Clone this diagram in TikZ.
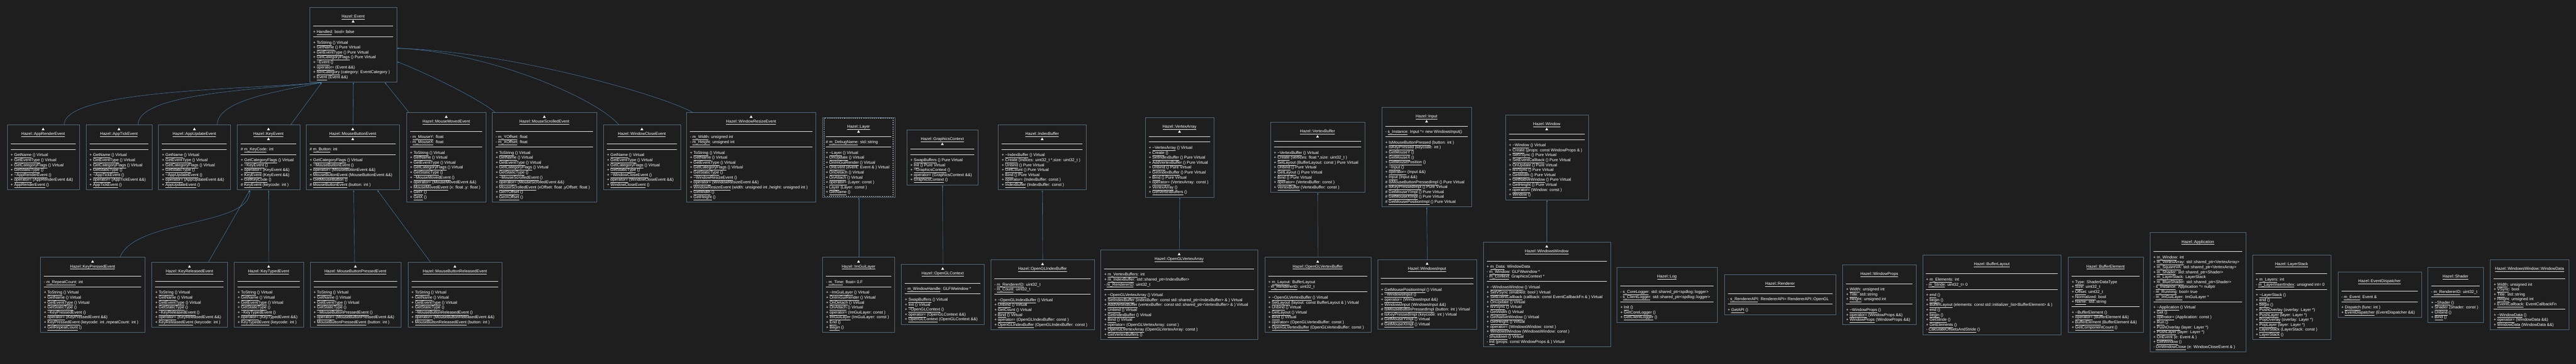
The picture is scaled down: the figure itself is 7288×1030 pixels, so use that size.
\documentclass[tikz,border=0pt]{standalone}
\usepackage{fontspec}
\setmainfont{Liberation Sans}
\usetikzlibrary{arrows.meta}
\definecolor{bgc}{RGB}{30,30,30}
\definecolor{boxc}{RGB}{88,116,140}
\definecolor{linec}{RGB}{70,128,178}
\newcommand{\un}[1]{\underline{#1\vphantom{y}}}
\newcommand{\tld}{\textasciitilde}
% #1 triangle offsets, #2 name, #3 left, #4 top, #5 width, #6 title, #7 fields, #8 operations
\newcommand{\umlclass}[8][]{%
  \node[ttl] (#2-t) at (#3+#5/2, #4+30) {\un{#6}};
  \if\relax\detokenize{#1}\relax\else
    \foreach \toff in {#1} {\fill[white] (#3+#5/2-4, #4+\toff+3.5) -- (#3+#5/2+4, #4+\toff+3.5) -- (#3+#5/2, #4+\toff-3.5) -- cycle;}
  \fi
  \draw[divl] (#3+10, #4+54) -- (#3+#5-10, #4+54);
  \gdef\nfld{0}
  \if\relax\detokenize{#7}\relax\else
    \foreach \s [count=\k] in {#7} {\node[txt] (#2-f\k) at (#3+10, #4+60+14*\k) {\s}; \xdef\nfld{\k}}
  \fi
  \pgfmathsetmacro\dtwo{#4+70+14*\nfld}
  \draw[divl] (#3+10, \dtwo) -- (#3+#5-10, \dtwo);
  \foreach \s [count=\k] in {#8} {\node[txt] (#2-m\k) at (#3+10, \dtwo+6+14*\k) {\s}; \xdef\nops{\k}}
  \pgfmathsetmacro\hgt{\dtwo+16+14*\nops-#4}
  \node[clsbox, minimum width=#5pt, minimum height=\hgt pt, anchor=north west] (#2) at (#3,#4) {};
}

\begin{document}
\begin{tikzpicture}[x=1pt,y=-1pt,
  txt/.style={anchor=base west, inner sep=0pt, text=white, font=\fontsize{11.5}{14}\selectfont},
  ttl/.style={anchor=base, inner sep=0pt, text=white, font=\fontsize{11.5}{14}\selectfont},
  divl/.style={draw=white, line width=0.9pt},
  clsbox/.style={draw=boxc, line width=1.3pt, inner sep=0pt},
  inh/.style={draw=linec, line width=0.9pt, -{Latex[length=5pt,width=4pt]}}]
  \fill[bgc] (0,0) rectangle (7288,1030);

  % top row
  \umlclass[40]{event}{876}{20}{246}{Hazel::Event}
    {+ \un{Handled}: bool= false}
    {+ \un{ToString} () Virtual, + \un{GetName} () Pure Virtual, + \un{GetEventType} () Pure Virtual, + \un{GetCategoryFlags} () Pure Virtual, + \un{\tld Event} (), + \un{operator=} (Event \&\&), + \un{IsInCategory} (category: EventCategory ), + \un{Event} (Event \&\&)}
  \umlclass[12]{apprender}{20}{353}{204}{Hazel::AppRenderEvent}{}
    {+ \un{GetName} () Virtual, + \un{GetEventType} () Virtual, + \un{GetCategoryFlags} () Virtual, + \un{GetStaticType} (), + \un{\tld AppRenderEvent} (), + \un{operator=} (AppRenderEvent \&\&), + \un{AppRenderEvent} ()}
  \umlclass[12]{apptick}{243}{353}{187}{Hazel::AppTickEvent}{}
    {+ \un{GetName} () Virtual, + \un{GetEventType} () Virtual, + \un{GetCategoryFlags} () Virtual, + \un{GetStaticType} (), + \un{\tld AppTickEvent} (), + \un{operator=} (AppTickEvent \&\&), + \un{AppTickEvent} ()}
  \umlclass[12]{appupdate}{448}{353}{204}{Hazel::AppUpdateEvent}{}
    {+ \un{GetName} () Virtual, + \un{GetEventType} () Virtual, + \un{GetCategoryFlags} () Virtual, + \un{GetStaticType} (), + \un{\tld AppUpdateEvent} (), + \un{operator=} (AppUpdateEvent \&\&), + \un{AppUpdateEvent} ()}
  \umlclass[12,40]{keyevent}{671}{353}{177}{Hazel::KeyEvent}
    {\# \un{m\_KeyCode}: int}
    {+ \un{GetCategoryFlags} () Virtual, + \un{\tld KeyEvent} (), + \un{operator=} (KeyEvent \&\&), + \un{KeyEvent} (KeyEvent \&\&), + \un{GetKeyCode} (), \# \un{KeyEvent} (keycode: int )}
  \umlclass[12,40]{mousebutton}{866}{353}{264}{Hazel::MouseButtonEvent}
    {\# \un{m\_Button}: int}
    {+ \un{GetCategoryFlags} () Virtual, + \un{\tld MouseButtonEvent} (), + \un{operator=} (MouseButtonEvent \&\&), + \un{MouseButtonEvent} (MouseButtonEvent \&\&), + \un{GetMouseButton} (), \# \un{MouseButtonEvent} (button: int )}
  \umlclass[12]{mousemoved}{1150}{318}{225}{Hazel::MouseMovedEvent}
    {- \un{m\_MouseY}: float, - \un{m\_MouseX}: float}
    {+ \un{ToString} () Virtual, + \un{GetName} () Virtual, + \un{GetEventType} () Virtual, + \un{GetCategoryFlags} () Virtual, + \un{GetStaticType} (), + \un{\tld MouseMovedEvent} (), + \un{operator=} (MouseMovedEvent \&\&), {+ \un{MouseMovedEvent} (x: float ,y: float )}, + \un{GetY} (), + \un{GetX} ()}
  \umlclass[12]{mousescrolled}{1392}{318}{296}{Hazel::MouseScrolledEvent}
    {- \un{m\_YOffset}: float, - \un{m\_XOffset}: float}
    {+ \un{ToString} () Virtual, + \un{GetName} () Virtual, + \un{GetEventType} () Virtual, + \un{GetCategoryFlags} () Virtual, + \un{GetStaticType} (), + \un{\tld MouseScrolledEvent} (), + \un{operator=} (MouseScrolledEvent \&\&), {+ \un{MouseScrolledEvent} (xOffset: float ,yOffset: float )}, + \un{GetYOffset} (), + \un{GetXOffset} ()}
  \umlclass[12]{windowclose}{1707}{353}{218}{Hazel::WindowCloseEvent}{}
    {+ \un{GetName} () Virtual, + \un{GetEventType} () Virtual, + \un{GetCategoryFlags} () Virtual, + \un{GetStaticType} (), + \un{\tld WindowCloseEvent} (), + \un{operator=} (WindowCloseEvent \&\&), + \un{WindowCloseEvent} ()}
  \umlclass[12]{windowresize}{1942}{318}{366}{Hazel::WindowResizeEvent}
    {- \un{m\_Width}: unsigned int, - \un{m\_Height}: unsigned int}
    {+ \un{ToString} () Virtual, + \un{GetName} () Virtual, + \un{GetEventType} () Virtual, + \un{GetCategoryFlags} () Virtual, + \un{GetStaticType} (), + \un{\tld WindowResizeEvent} (), + \un{operator=} (WindowResizeEvent \&\&), {+ \un{WindowResizeEvent} (width: unsigned int ,height: unsigned int )}, + \un{GetWidth} (), + \un{GetHeight} ()}
  \umlclass[40]{layer}{2326}{332}{206}{Hazel::Layer}
    {\# \un{m\_DebugName}: std::string}
    {+ \un{\tld Layer} () Virtual, + \un{OnUpdate} () Virtual, + \un{OnImGuiRender} () Virtual, + \un{OnEvent} (event: Event \& ) Virtual, + \un{OnDetach} () Virtual, + \un{OnAttach} () Virtual, + \un{operator=} (Layer: const ), + \un{Layer} (Layer: const ), + \un{GetName} ()}
  \draw[white, dashed, line width=1.2pt] ([shift={(6,3)}]layer.north west) rectangle ([shift={(-6,-3)}]layer.south east);
  \umlclass[40]{graphicscontext}{2565}{367}{202}{Hazel::GraphicsContext}{}
    {+ \un{SwapBuffers} () Pure Virtual, + \un{Init} () Pure Virtual, + \un{\tld GraphicsContext} (), + \un{operator=} (GraphicsContext \&\&), + \un{GraphicsContext} ()}
  \umlclass[40]{indexbuffer}{2824}{353}{249}{Hazel::IndexBuffer}{}
    {+ \un{\tld IndexBuffer} () Virtual, {+ \un{Create} (indices: uint32\_t *,size: uint32\_t )}, + \un{Unbind} () Pure Virtual, + \un{GetCount} () Pure Virtual, + \un{Bind} () Pure Virtual, + \un{operator=} (IndexBuffer: const ), + \un{IndexBuffer} (IndexBuffer: const )}
  \umlclass[40]{vertexarray}{3240}{332}{194}{Hazel::VertexArray}{}
    {+ \un{\tld VertexArray} () Virtual, + \un{Create} (), + \un{SetIndexBuffer} () Pure Virtual, + \un{AddVertexBuffer} () Pure Virtual, + \un{Unbind} () Pure Virtual, + \un{GetIndexBuffer} () Pure Virtual, + \un{Bind} () Pure Virtual, + \un{operator=} (VertexArray: const ), + \un{VertexArray} (), + \un{GetVertexBuffers} ()}
  \umlclass[40]{vertexbuffer}{3594}{346}{267}{Hazel::VertexBuffer}{}
    {+ \un{\tld VertexBuffer} () Virtual, {+ \un{Create} (vertices: float *,size: uint32\_t )}, + \un{SetLayout} (BufferLayout: const ) Pure Virtual, + \un{Unbind} () Pure Virtual, + \un{GetLayout} () Pure Virtual, + \un{Bind} () Pure Virtual, + \un{operator=} (VertexBuffer: const ), + \un{VertexBuffer} (VertexBuffer: const )}
  \umlclass[40]{input}{3909}{303}{254}{Hazel::Input}
    {- \un{s\_Instance}: Input *= new WindowsInput()}
    {+ \un{IsMouseButtonPressed} (button: int ), + \un{IsKeyPressed} (keycode: int ), + \un{GetMouseY} (), + \un{GetMouseX} (), + \un{GetMousePosition} (), + \un{\tld Input} (), + \un{operator=} (Input \&\&), + \un{Input} (Input \&\&), \# \un{IsMouseButtonPressedImpl} () Pure Virtual, \# \un{IsKeyPressedImpl} () Pure Virtual, \# \un{GetMouseYImpl} () Pure Virtual, \# \un{GetMouseXImpl} () Pure Virtual, \# \un{GetMousePositionImpl} () Pure Virtual}
  \umlclass[40]{window}{4259}{325}{234}{Hazel::Window}{}
    {+ \un{\tld Window} () Virtual, + \un{Create} (props: const WindowProps \& ), + \un{SetVSync} () Pure Virtual, + \un{SetEventCallback} () Pure Virtual, + \un{OnUpdate} () Pure Virtual, + \un{IsVSync} () Pure Virtual, + \un{GetWidth} () Pure Virtual, + \un{GetNativeWindow} () Pure Virtual, + \un{GetHeight} () Pure Virtual, + \un{operator=} (Window: const ), + \un{Window} ()}

  % bottom row
  \umlclass[12]{keypressed}{114}{728}{296}{Hazel::KeyPressedEvent}
    {- \un{m\_RepeatCount}: int}
    {+ \un{ToString} () Virtual, + \un{GetName} () Virtual, + \un{GetEventType} () Virtual, + \un{GetStaticType} (), + \un{\tld KeyPressedEvent} (), + \un{operator=} (KeyPressedEvent \&\&), {+ \un{KeyPressedEvent} (keycode: int ,repeatCount: int )}, + \un{GetRepeatCount} ()}
  \umlclass[12]{keyreleased}{429}{742}{214}{Hazel::KeyReleasedEvent}{}
    {+ \un{ToString} () Virtual, + \un{GetName} () Virtual, + \un{GetEventType} () Virtual, + \un{GetStaticType} (), + \un{\tld KeyReleasedEvent} (), + \un{operator=} (KeyReleasedEvent \&\&), + \un{KeyReleasedEvent} (keycode: int )}
  \umlclass[12]{keytyped}{662}{742}{196}{Hazel::KeyTypedEvent}{}
    {+ \un{ToString} () Virtual, + \un{GetName} () Virtual, + \un{GetEventType} () Virtual, + \un{GetStaticType} (), + \un{\tld KeyTypedEvent} (), + \un{operator=} (KeyTypedEvent \&\&), + \un{KeyTypedEvent} (keycode: int )}
  \umlclass[12]{mbpressed}{877}{742}{257}{Hazel::MouseButtonPressedEvent}{}
    {+ \un{ToString} () Virtual, + \un{GetName} () Virtual, + \un{GetEventType} () Virtual, + \un{GetStaticType} (), + \un{\tld MouseButtonPressedEvent} (), + \un{operator=} (MouseButtonPressedEvent \&\&), + \un{MouseButtonPressedEvent} (button: int )}
  \umlclass[12]{mbreleased}{1154}{742}{266}{Hazel::MouseButtonReleasedEvent}{}
    {+ \un{ToString} () Virtual, + \un{GetName} () Virtual, + \un{GetEventType} () Virtual, + \un{GetStaticType} (), + \un{\tld MouseButtonReleasedEvent} (), + \un{operator=} (MouseButtonReleasedEvent \&\&), + \un{MouseButtonReleasedEvent} (button: int )}
  \umlclass[12]{imguilayer}{2327}{728}{204}{Hazel::ImGuiLayer}
    {- \un{m\_Time}: float= 0.F}
    {+ \un{\tld ImGuiLayer} () Virtual, + \un{OnImGuiRender} () Virtual, + \un{OnDetach} () Virtual, + \un{OnAttach} () Virtual, + \un{operator=} (ImGuiLayer: const ), + \un{ImGuiLayer} (ImGuiLayer: const ), + \un{End} (), + \un{Begin} ()}
  \umlclass[12]{openglcontext}{2550}{748}{234}{Hazel::OpenGLContext}
    {- \un{m\_WindowHandle}: GLFWwindow *}
    {+ \un{SwapBuffers} () Virtual, + \un{Init} () Virtual, + \un{\tld OpenGLContext} (), + \un{operator=} (OpenGLContext \&\&), + \un{OpenGLContext} (OpenGLContext \&\&)}
  \umlclass[12]{openglindexbuffer}{2803}{735}{293}{Hazel::OpenGLIndexBuffer}
    {- \un{m\_RendererID}: uint32\_t, - \un{m\_Count}: uint32\_t}
    {+ \un{\tld OpenGLIndexBuffer} () Virtual, + \un{Unbind} () Virtual, + \un{GetCount} () Virtual, + \un{Bind} () Virtual, + \un{operator=} (OpenGLIndexBuffer: const ), + \un{OpenGLIndexBuffer} (OpenGLIndexBuffer: const )}
  \umlclass[12]{openglvertexarray}{3114}{707}{444}{Hazel::OpenGLVertexArray}
    {+ \un{m\_VertexBuffers}: int, + \un{m\_IndexBuffer}: std::shared\_ptr<IndexBuffer>, - \un{m\_RendererID}: uint32\_t}
    {+ \un{\tld OpenGLVertexArray} () Virtual, + \un{SetIndexBuffer} (indexBuffer: const std::shared\_ptr<IndexBuffer> \& ) Virtual, + \un{AddVertexBuffer} (vertexBuffer: const std::shared\_ptr<VertexBuffer> \& ) Virtual, + \un{Unbind} () Virtual, + \un{GetIndexBuffer} () Virtual, + \un{Bind} () Virtual, + \un{operator=} (OpenGLVertexArray: const ), + \un{OpenGLVertexArray} (OpenGLVertexArray: const ), + \un{GetVertexBuffers} ()}
  \umlclass[12]{openglvertexbuffer}{3578}{728}{300}{Hazel::OpenGLVertexBuffer}
    {+ \un{m\_Layout}: BufferLayout, - \un{m\_RendererID}: uint32\_t}
    {+ \un{\tld OpenGLVertexBuffer} () Virtual, + \un{SetLayout} (layout: const BufferLayout \& ) Virtual, + \un{Unbind} () Virtual, + \un{GetLayout} () Virtual, + \un{Bind} () Virtual, + \un{operator=} (OpenGLVertexBuffer: const ), + \un{OpenGLVertexBuffer} (OpenGLVertexBuffer: const )}
  \umlclass[12]{windowsinput}{3897}{734}{281}{Hazel::WindowsInput}{}
    {+ \un{GetMousePositionImpl} () Virtual, + \un{\tld WindowsInput} (), + \un{operator=} (WindowsInput \&\&), + \un{WindowsInput} (WindowsInput \&\&), \# \un{IsMouseButtonPressedImpl} (button: int ) Virtual, \# \un{IsKeyPressedImpl} (keycode: int ) Virtual, \# \un{GetMouseYImpl} () Virtual, \# \un{GetMouseXImpl} () Virtual}
  \umlclass[12]{windowswindow}{4196}{685}{360}{Hazel::WindowsWindow}
    {+ \un{m\_Data}: WindowData, - \un{m\_Window}: GLFWwindow *, - \un{m\_Context}: GraphicsContext *}
    {+ \un{\tld WindowsWindow} () Virtual, + \un{SetVSync} (enabled: bool ) Virtual, + \un{SetEventCallback} (callback: const EventCallbackFn \& ) Virtual, + \un{OnUpdate} () Virtual, + \un{IsVSync} () Virtual, + \un{GetWidth} () Virtual, + \un{GetNativeWindow} () Virtual, + \un{GetHeight} () Virtual, + \un{operator=} (WindowsWindow: const ), + \un{WindowsWindow} (WindowsWindow: const ), - \un{Shutdown} () Virtual, - \un{Init} (props: const WindowProps \& ) Virtual}

  % classes without parents
  \umlclass{log}{4574}{756}{284}{Hazel::Log}
    {- \un{s\_CoreLogger}: std::shared\_ptr<spdlog::logger>, - \un{s\_ClientLogger}: std::shared\_ptr<spdlog::logger>}
    {+ \un{Init} (), + \un{GetCoreLogger} (), + \un{GetClientLogger} ()}
  \umlclass{renderer}{4878}{777}{316}{Hazel::Renderer}
    {- \un{s\_RendererAPI}: RendererAPI= RendererAPI::OpenGL}
    {+ \un{GetAPI} ()}
  \umlclass{windowprops}{5213}{749}{208}{Hazel::WindowProps}
    {+ \un{Width}: unsigned int, + \un{Title}: std::string, + \un{Height}: unsigned int}
    {+ \un{\tld WindowProps} (), + \un{operator=} (WindowProps \&\&), + \un{WindowProps} (WindowProps \&\&)}
  \umlclass{bufferlayout}{5439}{721}{392}{Hazel::BufferLayout}
    {+ \un{m\_Elements}: int, - \un{m\_Stride}: uint32\_t= 0}
    {+ \un{end} (), + \un{begin} (), + \un{BufferLayout} (elements: const std::initializer\_list<BufferElement> \& ), + \un{end} (), + \un{begin} (), + \un{GetStride} (), + \un{GetElements} (), - \un{CalculateOffsetsAndStride} ()}
  \umlclass{bufferelement}{5851}{728}{212}{Hazel::BufferElement}
    {+ \un{Type}: ShaderDataType, + \un{Size}: uint32\_t, + \un{Offset}: uint32\_t, + \un{Normalized}: bool, + \un{Name}: std::string}
    {+ \un{\tld BufferElement} (), + \un{operator=} (BufferElement \&\&), + \un{BufferElement} (BufferElement \&\&), + \un{GetComponentCount} ()}
  \umlclass{application}{6082}{658}{272}{Hazel::Application}
    {+ \un{m\_Window}: int, + \un{m\_VertexArray}: std::shared\_ptr<VertexArray>, + \un{m\_SquareVA}: std::shared\_ptr<VertexArray>, + \un{m\_Shader}: std::shared\_ptr<Shader>, + \un{m\_LayerStack}: LayerStack, + \un{m\_BlueShader}: std::shared\_ptr<Shader>, - \un{s\_Instance}: Application *= nullptr, - \un{m\_Running}: bool= true, - \un{m\_ImGuiLayer}: ImGuiLayer *}
    {+ \un{\tld Application} () Virtual, + \un{Get} (), + \un{operator=} (Application: const ), + \un{Run} (), + \un{PushOverlay} (layer: Layer *), + \un{PushLayer} (layer: Layer *), + \un{OnEvent} (e: Event \& ), + \un{GetWindow} (), - \un{OnWindowClose} (e: WindowCloseEvent \& )}
  \umlclass{layerstack}{6372}{721}{222}{Hazel::LayerStack}
    {+ \un{m\_Layers}: int, - \un{m\_LayerInsertIndex}: unsigned int= 0}
    {+ \un{\tld LayerStack} (), + \un{end} (), + \un{begin} (), + \un{PushOverlay} (overlay: Layer *), + \un{PushLayer} (layer: Layer *), + \un{PopOverlay} (overlay: Layer *), + \un{PopLayer} (layer: Layer *), + \un{LayerStack} (LayerStack: const ), + \un{LayerStack} ()}
  \umlclass{eventdispatcher}{6614}{770}{236}{Hazel::EventDispatcher}
    {- \un{m\_Event}: Event \&}
    {+ \un{Dispatch} (func: int ), + \un{EventDispatcher} (EventDispatcher \&\&)}
  \umlclass{shader}{6868}{756}{158}{Hazel::Shader}
    {- \un{m\_RendererID}: uint32\_t}
    {+ \un{\tld Shader} (), + \un{Shader} (Shader: const ), + \un{Unbind} (), + \un{Bind} ()}
  \umlclass{windowdata}{7045}{735}{223}{Hazel::WindowsWindow::WindowData}
    {+ \un{Width}: unsigned int, + \un{VSync}: bool, + \un{Title}: std::string, + \un{Height}: unsigned int, + \un{EventCallback}: EventCallbackFn}
    {+ \un{\tld WindowData} (), + \un{operator=} (WindowData \&\&), + \un{WindowData} (WindowData \&\&)}

  % inheritance
  \coordinate (ev-a) at ([xshift=-89pt]event.south);
  \coordinate (ev-c) at ([xshift=89pt]event.south);
  \coordinate (ev-d) at ([yshift=-10pt]event.east);
  \coordinate (ev-e) at ([yshift=-48pt]event.east);
  \draw[inh] ([xshift=59pt]apprender.north) .. controls +(0,-100) and +(-200,20) .. (ev-a);
  \draw[inh] ([xshift=53.5pt]apptick.north) .. controls +(0,-90) and +(-170,20) .. (ev-a);
  \draw[inh] ([xshift=64pt]appupdate.north) .. controls +(0,-70) and +(-120,25) .. (ev-a);
  \draw[inh] ([xshift=62.5pt]keyevent.north) -- (ev-a);
  \draw[inh] (mousebutton.north) -- (event.south);
  \draw[inh] ([xshift=-106.5pt]mousemoved.north) -- (ev-c);
  \draw[inh] ([xshift=-140pt]mousescrolled.north) .. controls +(-40,-35) and +(90,35) .. (ev-e);
  \draw[inh] ([xshift=-66pt]windowclose.north) .. controls +(-70,-80) and +(250,10) .. (ev-d);
  \draw[inh] ([xshift=-166pt]windowresize.north) .. controls +(-90,-50) and +(320,10) .. (ev-d);
  \coordinate (ke-a) at ([xshift=-53.5pt]keyevent.south);
  \coordinate (mb-a) at ([xshift=69pt]mousebutton.south);
  \draw[inh] ([xshift=77pt]keypressed.north) .. controls +(41,-108) and +(0,103) .. (ke-a);
  \draw[inh] ([xshift=53pt]keyreleased.north) -- (ke-a);
  \draw[inh] (keytyped.north) -- (keyevent.south);
  \draw[inh] ([xshift=-3pt]mbpressed.north) -- ([xshift=2pt]mousebutton.south);
  \draw[inh] ([xshift=-70pt]mbreleased.north) -- (mb-a);
  \draw[inh] (imguilayer.north) -- (layer.south);
  \draw[inh] (openglcontext.north) -- (graphicscontext.south);
  \draw[inh] (openglindexbuffer.north) -- (indexbuffer.south);
  \draw[inh] (openglvertexarray.north) -- (vertexarray.south);
  \draw[inh] (openglvertexbuffer.north) -- (vertexbuffer.south);
  \draw[inh] (windowsinput.north) -- (input.south);
  \draw[inh] (windowswindow.north) -- (window.south);
\end{tikzpicture}
\end{document}
